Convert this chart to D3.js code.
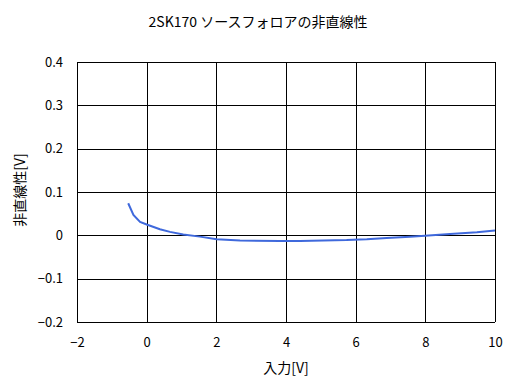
<!DOCTYPE html>
<html>
<head>
<meta charset="utf-8">
<script src="https://cdn.jsdelivr.net/npm/d3@7"></script>
<style>
  body { margin: 0; background: #fff; }
  text { font-family: "Noto Sans CJK JP", "DejaVu Sans", sans-serif; fill: #000; }
</style>
</head>
<body>
<svg id="chart"></svg>
<script>
// values
const inputV = [-0.53, -0.38, -0.19, 0.0, 0.38, 0.67, 1.05, 1.53, 2.01, 2.68, 3.83, 4.4, 5.74, 6.32, 6.89, 7.56, 7.99, 8.71, 9.48, 10.0];
const nonlin = [0.074, 0.047, 0.031, 0.025, 0.014, 0.008, 0.002, -0.003, -0.009, -0.012, -0.013, -0.013, -0.011, -0.009, -0.006, -0.003, -0.001, 0.003, 0.007, 0.011];
const xTicks = [-2, 0, 2, 4, 6, 8, 10];
const yTicks = [-0.2, -0.1, 0, 0.1, 0.2, 0.3, 0.4];
const titleText = "2SK170 ソースフォロアの非直線性";
const xTitle = "入力[V]";
const yTitle = "非直線性[V]";

const W = 516, H = 391;
const margin = {top: 62, right: 21, bottom: 69, left: 77};
const width = W - margin.left - margin.right;
const height = H - margin.top - margin.bottom;

const svg = d3.select("#chart").attr("width", W).attr("height", H);
const chart = svg.append("g").attr("transform", `translate(${margin.left},${margin.top})`);

const xScale = d3.scaleLinear().domain([-2, 10]).range([0, width]);
const yScale = d3.scaleLinear().domain([-0.2, 0.4]).range([height, 0]);

// gridlines
chart.selectAll(".vgrid").data(xTicks).enter().append("line")
  .attr("x1", d => Math.round(xScale(d)) + 0.5).attr("x2", d => Math.round(xScale(d)) + 0.5)
  .attr("y1", 0).attr("y2", height)
  .attr("stroke", "#000").attr("stroke-width", 1);
chart.selectAll(".hgrid").data(yTicks).enter().append("line")
  .attr("y1", d => Math.round(yScale(d)) + 0.5).attr("y2", d => Math.round(yScale(d)) + 0.5)
  .attr("x1", 0).attr("x2", width)
  .attr("stroke", "#000").attr("stroke-width", 1);

// axes (labels only)
const xAxis = d3.axisBottom(xScale).tickValues(xTicks).tickSize(0).tickPadding(16).tickFormat(d => d < 0 ? "−" + Math.abs(d) : d);
const yAxis = d3.axisLeft(yScale).tickValues(yTicks).tickSize(0).tickPadding(14).tickFormat(d => d === 0 ? "0" : (d < 0 ? "−" + Math.abs(d) : d));
const xg = chart.append("g").attr("transform", `translate(0,${height})`).call(xAxis);
const yg = chart.append("g").call(yAxis);
[xg, yg].forEach(g => {
  g.select(".domain").remove();
  g.selectAll("text").attr("font-size", 13).attr("font-family", "\"Noto Sans CJK JP\", sans-serif").attr("fill", "#000");
});

// line
const pts = inputV.map((v, i) => [v, nonlin[i]]);
chart.append("path")
  .datum(pts)
  .attr("fill", "none")
  .attr("stroke", "#3f69dc")
  .attr("stroke-width", 2)
  .attr("d", d3.line().x(d => xScale(d[0])).y(d => yScale(d[1])));

// titles
svg.append("text").attr("x", 258).attr("y", 27).attr("text-anchor", "middle")
  .attr("font-size", 14).text(titleText);
svg.append("text").attr("x", margin.left + width / 2).attr("y", 373).attr("text-anchor", "middle")
  .attr("font-size", 14).text(xTitle);
svg.append("text").attr("transform", `translate(25,${190}) rotate(-90)`).attr("text-anchor", "middle")
  .attr("font-size", 14).text(yTitle);
</script>
</body>
</html>
